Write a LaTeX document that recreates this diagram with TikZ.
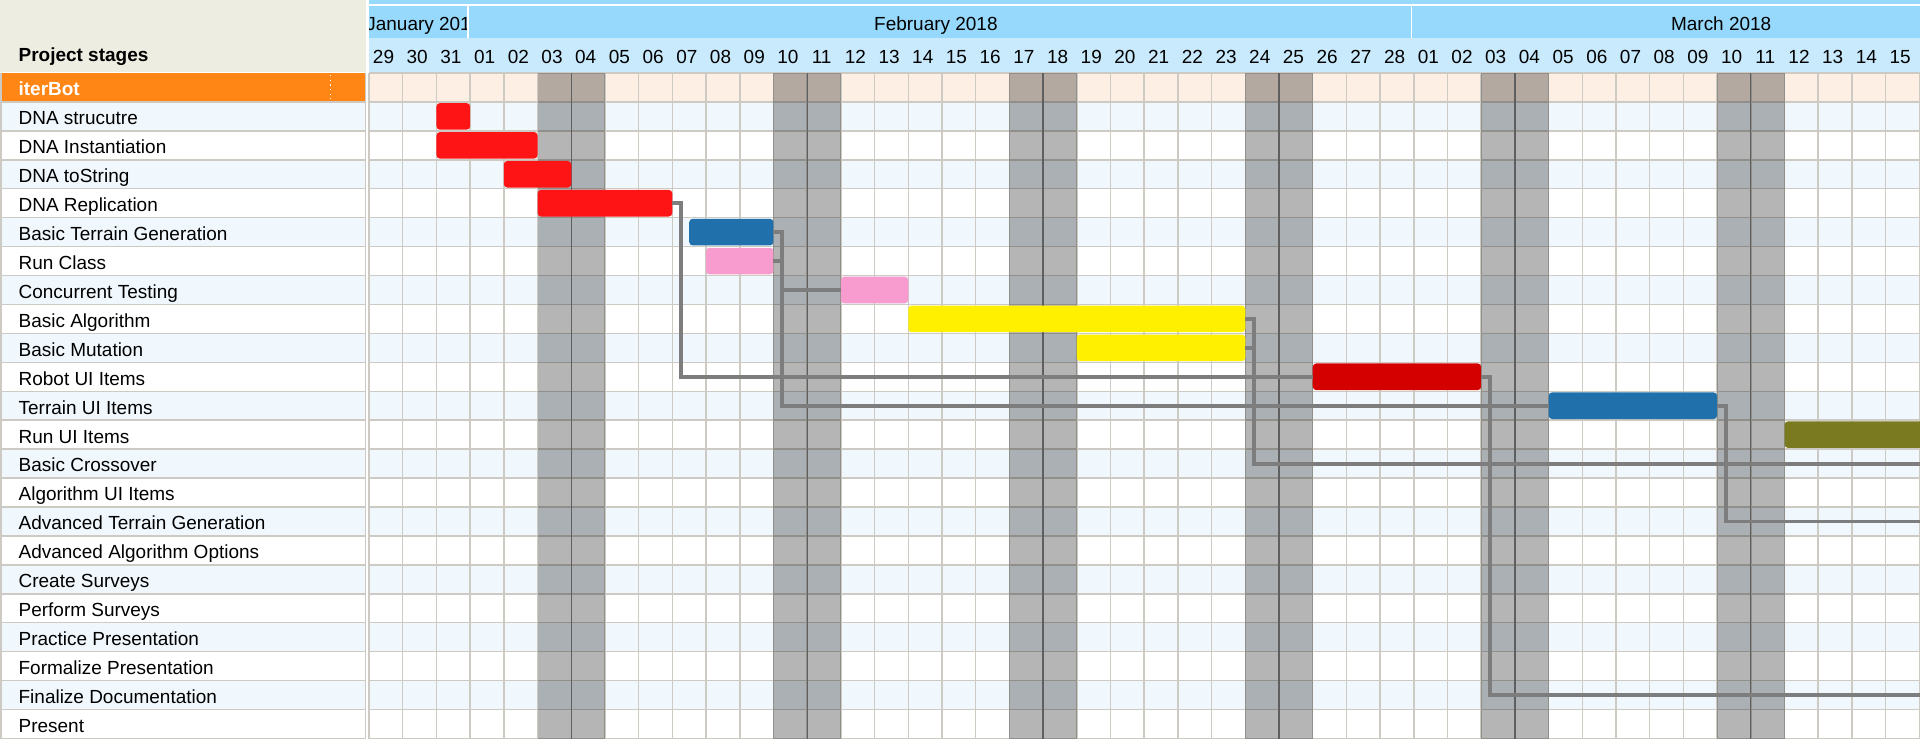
\documentclass[tikz,border=0pt]{standalone}
\usepackage{fontspec}
\setmainfont{Liberation Sans}
\usetikzlibrary{fit}

\definecolor{headbeige}{RGB}{238,237,225}
\definecolor{monthblue}{RGB}{150,217,252}
\definecolor{dayblue}{RGB}{201,234,252}
\definecolor{projorange}{RGB}{255,133,20}
\definecolor{projpeach}{RGB}{253,239,228}
\definecolor{rowblue}{RGB}{240,248,253}
\definecolor{gridgray}{RGB}{204,202,194}
\definecolor{sundayline}{RGB}{95,95,95}
\definecolor{linkgray}{RGB}{125,125,125}
\definecolor{barred}{RGB}{254,20,20}
\definecolor{barblue}{RGB}{31,112,171}
\definecolor{barpink}{RGB}{248,156,208}
\definecolor{baryellow}{RGB}{255,240,0}
\definecolor{bardarkred}{RGB}{212,0,0}
\definecolor{barolive}{RGB}{122,122,32}

\newcommand{\chartfont}{\fontsize{10.8pt}{13pt}\selectfont}

\begin{document}
\begin{tikzpicture}[x=0.674cm, y=-0.5786cm,
    stage label/.style={font=\chartfont, anchor=base west, inner sep=0pt},
    day label/.style={font=\chartfont, anchor=base, inner sep=0pt},
    month label/.style={font=\chartfont, anchor=base, inner sep=0pt},
    bar/.style={rounded corners=2pt, inner sep=0pt, outer sep=0pt},
    link/.style={linkgray, line width=2.2pt},
    weekend/.style={fill=black, fill opacity=0.29},
    grid line/.style={gridgray, line width=0.85pt},
    sunday line/.style={sundayline, line width=0.75pt}]

  % page frame: one column = one day, one unit down = one task row
  \useasboundingbox (-10.95,-2.523) rectangle (46.02,23.02);
  \clip (-10.95,-2.523) rectangle (46.02,23.02);

  % ===== Header =====
  \fill[headbeige] (-10.95,-2.523) rectangle (-0.1,-0.04);
  \node[stage label, font=\chartfont\bfseries] (title) at (-10.407,-0.39) {Project stages};

  \fill[monthblue] (0,-2.523) rectangle (46.02,-2.385);
  \fill[monthblue] (0,-2.316) rectangle (46.02,-1.21);
  \fill[dayblue] (0,-1.21) rectangle (46.02,-0.02);
  \draw[white, line width=0.9pt] (2.93,-2.316) -- (2.93,-1.21)
                                 (30.93,-2.316) -- (30.93,-1.21);

  % January is cut off by its narrow cell
  \begin{scope}
    \clip (0,-2.316) rectangle (2.88,-1.21);
    \node[month label, anchor=base west] (jan) at (-0.09,-1.462) {January 2018};
  \end{scope}
  \node[month label] (feb) at (16.82,-1.462) {February 2018};
  \node[month label] (mar) at (40.12,-1.462) {March 2018};

  \foreach \d [count=\i from 0] in {29,30,31,01,02,03,04,05,06,07,08,09,10,11,12,13,
      14,15,16,17,18,19,20,21,22,23,24,25,26,27,28,01,02,03,04,05,06,07,08,09,10,11,
      12,13,14,15}
    \node[day label] (day-\i) at (\i+0.43,-0.335) {\d};

  % ===== Left panel =====
  \fill[projorange] (-10.95,0) rectangle (-0.1,1);
  \foreach \r in {1,3,...,21}
    \fill[rowblue] (-10.95,\r) rectangle (-0.1,\r+1);
  \foreach \r in {1,...,23}
    \draw[grid line] (-10.95,\r) -- (-0.1,\r);
  \draw[grid line] (-10.92,0) -- (-10.92,23.02) (-0.1,0) -- (-0.1,23.02);
  \draw[white, dotted, line width=0.6pt] (-1.137,0.08) -- (-1.137,0.92);

  \node[stage label, font=\chartfont\bfseries, white] (stage-0) at (-10.407,0.79) {iterBot};
  \foreach \lbl [count=\r] in {DNA strucutre, DNA Instantiation, DNA toString,
      DNA Replication, Basic Terrain Generation, Run Class, Concurrent Testing,
      Basic Algorithm, Basic Mutation, Robot UI Items, Terrain UI Items,
      Run UI Items, Basic Crossover, Algorithm UI Items, Advanced Terrain Generation,
      Advanced Algorithm Options, Create Surveys, Perform Surveys,
      Practice Presentation, Formalize Presentation, Finalize Documentation, Present}
    \node[stage label] (stage-\r) at (-10.407,\r+0.79) {\lbl};

  % ===== Day grid =====
  \fill[projpeach] (0,0) rectangle (46.02,1);
  \foreach \r in {1,3,...,21}
    \fill[rowblue] (0,\r) rectangle (46.02,\r+1);
  \foreach \r in {0,...,23}
    \draw[grid line] (0,\r) -- (46.02,\r);
  \foreach \c in {0,...,46}
    \draw[grid line] (\c,0) -- (\c,23.02);

  % weekends (Sat + Sun), dark line before each Sunday
  \foreach \w in {5,12,19,26,33,40} {
    \fill[weekend] (\w,0) rectangle (\w+2,23.02);
    \draw[sunday line] (\w+1,0) -- (\w+1,23.02);
  }

  % ===== Task bars =====
  \node[bar, fill=barred, fit={(2,1.04) (3,1.96)}] (dna-struct) {};
  \node[bar, fill=barred, fit={(2,2.04) (5,2.96)}] (dna-inst) {};
  \node[bar, fill=barred, fit={(4,3.04) (6,3.96)}] (dna-tostring) {};
  \node[bar, fill=barred, fit={(5,4.04) (9,4.96)}] (dna-repl) {};
  \node[bar, fill=barblue, fit={(9.5,5.04) (12,5.96)}] (terrain-gen) {};
  \node[bar, fill=barpink, fit={(10,6.04) (12,6.96)}] (run-class) {};
  \node[bar, fill=barpink, fit={(14,7.04) (16,7.96)}] (conc-test) {};
  \node[bar, fill=baryellow, fit={(16,8.04) (26,8.96)}] (basic-alg) {};
  \node[bar, fill=baryellow, fit={(21,9.04) (26,9.96)}] (basic-mut) {};
  \node[bar, fill=bardarkred, fit={(28,10.04) (33,10.96)}] (robot-ui) {};
  \node[bar, fill=barblue, fit={(35,11.04) (40,11.96)}] (terrain-ui) {};
  \node[bar, fill=barolive, fit={(42,12.04) (46.6,12.96)}] (run-ui) {};

  % ===== Dependencies =====
  % targets past the right edge of the chart
  \coordinate (crossover-in) at (46.6,13.5);
  \coordinate (adv-terrain-in) at (46.6,15.5);
  \coordinate (finalize-in) at (46.6,21.5);

  \draw[link] (dna-repl.east) -- ++(0.26,0) |- (robot-ui.west);
  \draw[link] (terrain-gen.east) -- ++(0.25,0) |- (terrain-ui.west);
  \draw[link] (run-class.east) -- ++(0.25,0) |- (conc-test.west);
  \draw[link] (basic-alg.east) -- ++(0.26,0) |- (crossover-in);
  \draw[link] (basic-mut.east) -- ++(0.26,0) |- (crossover-in);
  \draw[link] (robot-ui.east) -- ++(0.25,0) |- (finalize-in);
  \draw[link] (terrain-ui.east) -- ++(0.26,0) |- (adv-terrain-in);

\end{tikzpicture}
\end{document}
